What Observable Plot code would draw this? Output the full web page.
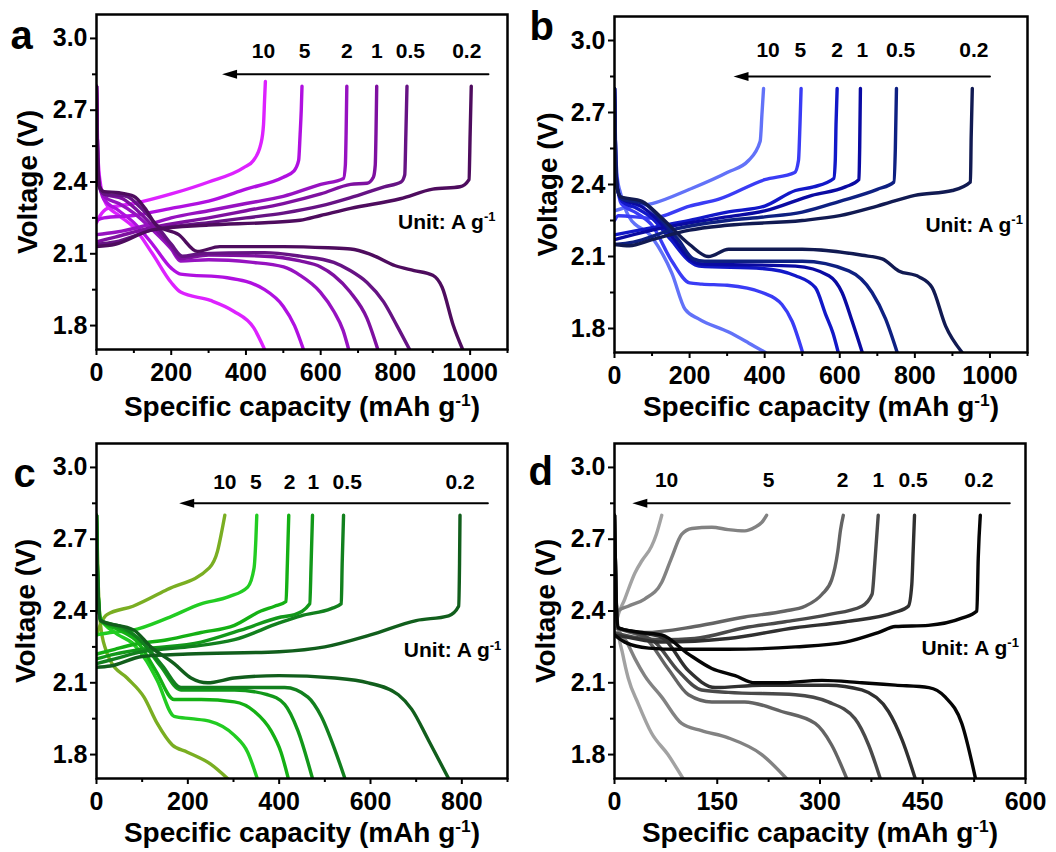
<!DOCTYPE html>
<html><head><meta charset="utf-8">
<script src="https://cdn.jsdelivr.net/npm/d3@7"></script>
<script src="https://cdn.jsdelivr.net/npm/@observablehq/plot@0.6"></script>
<style>
body{margin:0;background:#fff;}
#grid{display:grid;grid-template-columns:528px 528px;grid-template-rows:426px 426px;width:1056px;}
#grid svg{display:block;overflow:visible}
</style></head><body><div id="grid"></div>
<script>
// ---- shared categories / ticks ----
const rates = ["10","5","2","1","0.5","0.2"];
const yTicks = [1.8, 2.1, 2.4, 2.7, 3.0];
const yMinor = [1.95, 2.25, 2.55, 2.85];
const xTicksAB = [0,200,400,600,800,1000];
const xMinorAB = [100,300,500,700,900,1100];
const xTicksC = [0,200,400,600,800];
const xMinorC = [100,300,500,700,900];
const xTicksD = [0,150,300,450,600];
const xMinorD = [75,225,375,525];

// ---- colours ----
const colorsA = ["#dd22ff","#b010e0","#9612c0","#7e10a0","#661384","#4e0c5e"];
const colorsB = ["#6272f8","#3a3cf5","#1218c8","#0a0aa2","#0e2082","#111a52"];
const colorsC = ["#7aae22","#22cc22","#14b014","#12981a","#12801e","#115e1c"];
const colorsD = ["#a2a2a2","#828282","#646464","#4a4a4a","#303030","#050505"];

// ---- panel a (capacity mAh/g, voltage V), order: 10,5,2,1,0.5,0.2 ----
const aCharge = [
  [[0,2.23],[10,2.26],[30,2.29],[100,2.31],[200,2.35],[300,2.40],[394,2.46],[420,2.49],[440,2.56],[447,2.64],[450,2.75],[452,2.82]],
  [[0,2.24],[20,2.25],[100,2.26],[200,2.29],[300,2.32],[400,2.37],[500,2.42],[528,2.445],[541,2.49],[545,2.6],[548,2.7],[550,2.8]],
  [[0,2.18],[50,2.19],[135,2.22],[200,2.25],[300,2.28],[400,2.31],[500,2.34],[600,2.39],[661,2.415],[666,2.47],[668,2.6],[670,2.8]],
  [[0,2.15],[50,2.17],[150,2.21],[300,2.25],[400,2.28],[500,2.31],[600,2.35],[680,2.39],[724,2.395],[741,2.42],[746,2.47],[748,2.6],[750,2.8]],
  [[0,2.14],[50,2.15],[150,2.2],[300,2.23],[400,2.25],[500,2.27],[600,2.30],[680,2.335],[770,2.38],[815,2.40],[825,2.43],[828,2.6],[831,2.8]],
  [[0,2.13],[50,2.14],[150,2.20],[300,2.22],[450,2.23],[545,2.24],[600,2.26],[680,2.29],[813,2.33],[900,2.37],[973,2.38],[997,2.41],[1000,2.6],[1003,2.8]]
];
const aDischarge = [
  [[0,2.8],[3,2.55],[8,2.42],[25,2.31],[60,2.26],[100,2.21],[150,2.1],[200,1.98],[225,1.94],[305,1.905],[367,1.86],[421,1.79],[450,1.7]],
  [[0,2.8],[3,2.5],[8,2.4],[19,2.33],[60,2.28],[100,2.23],[150,2.14],[200,2.04],[225,2.015],[350,2.0],[450,1.95],[500,1.88],[530,1.8],[554,1.7]],
  [[0,2.8],[3,2.5],[8,2.38],[20,2.34],[60,2.31],[100,2.27],[150,2.2],[200,2.12],[225,2.07],[300,2.075],[412,2.065],[501,2.045],[545,2.01],[599,1.94],[635,1.86],[660,1.78],[675,1.7]],
  [[0,2.8],[3,2.5],[8,2.38],[20,2.35],[70,2.33],[110,2.28],[160,2.2],[200,2.13],[225,2.08],[300,2.095],[450,2.09],[545,2.07],[600,2.045],[635,2.01],[679,1.94],[724,1.83],[753,1.7]],
  [[0,2.8],[3,2.5],[8,2.38],[20,2.35],[80,2.34],[120,2.29],[160,2.22],[200,2.14],[230,2.09],[280,2.1],[450,2.105],[545,2.09],[635,2.064],[679,2.03],[724,1.98],[768,1.9],[804,1.8],[838,1.7]],
  [[0,2.8],[3,2.5],[8,2.38],[20,2.36],[60,2.355],[100,2.34],[130,2.29],[160,2.22],[220,2.18],[270,2.11],[330,2.13],[500,2.13],[620,2.125],[680,2.12],[730,2.1],[800,2.05],[850,2.03],[900,2.01],[925,1.96],[955,1.8],[980,1.7]]
];

// ---- panel b ----
const bCharge = [
  [[0,2.29],[20,2.3],[100,2.32],[200,2.38],[300,2.45],[357,2.5],[388,2.58],[393,2.7],[397,2.8]],
  [[0,2.25],[10,2.27],[100,2.26],[200,2.31],[280,2.34],[400,2.42],[480,2.45],[490,2.5],[494,2.65],[497,2.8]],
  [[0,2.19],[100,2.22],[200,2.25],[300,2.285],[400,2.31],[482,2.375],[530,2.39],[584,2.425],[588,2.5],[590,2.65],[593,2.8]],
  [[0,2.17],[100,2.21],[200,2.24],[300,2.265],[400,2.29],[526,2.355],[615,2.39],[651,2.42],[653,2.55],[655,2.8]],
  [[0,2.15],[50,2.16],[150,2.21],[300,2.25],[400,2.265],[500,2.285],[600,2.33],[700,2.38],[744,2.41],[748,2.55],[751,2.8]],
  [[0,2.15],[40,2.145],[100,2.17],[200,2.21],[300,2.23],[500,2.25],[600,2.27],[700,2.31],[800,2.355],[900,2.375],[948,2.41],[950,2.6],[953,2.8]]
];
const bDischarge = [
  [[0,2.8],[3,2.55],[8,2.42],[15,2.37],[37,2.27],[100,2.18],[153,2.03],[188,1.88],[224,1.84],[304,1.785],[357,1.74],[402,1.7]],
  [[0,2.8],[3,2.5],[8,2.4],[18,2.32],[60,2.28],[100,2.23],[153,2.08],[200,1.99],[233,1.985],[300,1.98],[393,1.95],[446,1.9],[473,1.83],[501,1.7]],
  [[0,2.8],[3,2.5],[8,2.38],[20,2.33],[60,2.3],[100,2.26],[150,2.17],[200,2.08],[225,2.06],[393,2.05],[482,2.02],[535,1.97],[562,1.86],[582,1.78],[596,1.7]],
  [[0,2.8],[3,2.5],[8,2.38],[20,2.34],[70,2.31],[110,2.26],[160,2.17],[200,2.09],[225,2.07],[482,2.06],[571,2.02],[606,1.95],[633,1.83],[660,1.7]],
  [[0,2.8],[3,2.5],[8,2.38],[20,2.34],[80,2.32],[120,2.26],[170,2.17],[210,2.09],[240,2.08],[500,2.08],[624,2.04],[686,1.95],[722,1.84],[753,1.7]],
  [[0,2.8],[3,2.5],[8,2.38],[15,2.35],[73,2.33],[126,2.26],[200,2.15],[250,2.1],[304,2.13],[500,2.13],[660,2.105],[713,2.09],[757,2.04],[811,2.015],[846,1.97],[882,1.81],[926,1.7]]
];

// ---- panel c ----
const cCharge = [
  [[0,2.3],[10,2.35],[23,2.385],[80,2.42],[155,2.49],[247,2.58],[265,2.65],[273,2.72],[281,2.8]],
  [[0,2.3],[30,2.31],[80,2.32],[155,2.37],[229,2.43],[290,2.46],[331,2.5],[345,2.58],[349,2.7],[351,2.8]],
  [[0,2.22],[40,2.24],[82,2.26],[155,2.28],[229,2.31],[302,2.34],[360,2.4],[390,2.42],[415,2.44],[418,2.6],[421,2.8]],
  [[0,2.2],[40,2.22],[100,2.24],[229,2.27],[316,2.32],[404,2.375],[434,2.385],[467,2.43],[470,2.6],[473,2.8]],
  [[0,2.18],[40,2.2],[100,2.23],[200,2.25],[302,2.28],[400,2.35],[448,2.38],[514,2.41],[536,2.43],[538,2.6],[541,2.8]],
  [[0,2.165],[30,2.17],[100,2.21],[200,2.22],[400,2.23],[500,2.25],[600,2.3],[700,2.36],[771,2.38],[793,2.42],[795,2.6],[796,2.8]]
];
const cDischarge = [
  [[0,2.8],[4,2.5],[9,2.34],[20,2.24],[31,2.19],[67,2.12],[104,2.04],[133,1.93],[166,1.84],[199,1.81],[250,1.76],[287,1.7]],
  [[0,2.8],[3,2.5],[9,2.37],[40,2.31],[82,2.26],[110,2.19],[133,2.11],[170,1.96],[207,1.95],[247,1.94],[302,1.88],[331,1.81],[352,1.7]],
  [[0,2.8],[3,2.5],[9,2.36],[50,2.32],[90,2.27],[130,2.15],[170,2.03],[229,2.03],[302,2.02],[346,1.98],[382,1.9],[404,1.81],[420,1.7]],
  [[0,2.8],[3,2.5],[9,2.36],[50,2.33],[95,2.28],[140,2.17],[185,2.07],[302,2.07],[375,2.05],[412,2.01],[441,1.9],[473,1.7]],
  [[0,2.8],[3,2.5],[9,2.36],[60,2.33],[100,2.27],[145,2.17],[185,2.08],[412,2.08],[463,2.04],[492,1.96],[522,1.82],[544,1.7]],
  [[0,2.8],[3,2.5],[9,2.36],[82,2.32],[119,2.25],[170,2.18],[207,2.12],[243,2.1],[302,2.12],[400,2.13],[522,2.12],[595,2.1],[661,2.05],[690,1.99],[727,1.86],[771,1.7]]
];

// ---- panel d ----
const dCharge = [
  [[0,2.32],[3,2.36],[15,2.45],[30,2.56],[40,2.61],[54,2.67],[61,2.72],[69,2.8]],
  [[0,2.33],[5,2.4],[20,2.42],[44,2.45],[69,2.52],[83,2.62],[98,2.72],[113,2.745],[142,2.75],[166,2.74],[190,2.735],[205,2.75],[215,2.77],[222,2.8]],
  [[0,2.33],[44,2.31],[117,2.335],[190,2.375],[249,2.4],[278,2.42],[303,2.47],[317,2.53],[326,2.65],[330,2.74],[334,2.8]],
  [[0,2.31],[30,2.29],[69,2.28],[117,2.285],[190,2.33],[249,2.355],[312,2.385],[361,2.42],[376,2.47],[380,2.6],[385,2.8]],
  [[0,2.3],[20,2.29],[69,2.27],[166,2.285],[264,2.33],[337,2.355],[410,2.395],[429,2.42],[434,2.51],[436,2.65],[438,2.8]],
  [[0,2.3],[15,2.27],[50,2.245],[93,2.24],[166,2.24],[264,2.25],[337,2.27],[385,2.31],[410,2.335],[458,2.34],[507,2.37],[529,2.4],[531,2.62],[534,2.8]]
];
const dDischarge = [
  [[0,2.8],[2,2.5],[5,2.33],[12,2.22],[20,2.12],[35,2.01],[54,1.89],[78,1.8],[100,1.7]],
  [[0,2.8],[2,2.5],[5,2.33],[18,2.27],[30,2.2],[44,2.13],[69,2.04],[98,1.93],[127,1.9],[166,1.87],[215,1.8],[251,1.7]],
  [[0,2.8],[2,2.5],[5,2.33],[25,2.31],[44,2.29],[78,2.16],[108,2.05],[142,2.02],[190,2.02],[244,1.98],[293,1.93],[317,1.84],[339,1.7]],
  [[0,2.8],[2,2.5],[5,2.33],[30,2.31],[59,2.27],[93,2.15],[127,2.07],[166,2.06],[264,2.05],[312,2.02],[351,1.95],[371,1.84],[388,1.7]],
  [[0,2.8],[2,2.5],[5,2.33],[35,2.31],[69,2.29],[108,2.15],[147,2.08],[215,2.09],[312,2.09],[361,2.07],[400,1.98],[420,1.86],[439,1.7]],
  [[0,2.8],[2,2.5],[5,2.33],[40,2.31],[69,2.3],[108,2.22],[142,2.16],[176,2.13],[205,2.1],[239,2.1],[303,2.11],[361,2.1],[410,2.09],[459,2.08],[483,2.04],[507,1.93],[527,1.7]]
];

// ---- annotation positions (data units) ----
const aLabelX = [447,557,670,750,840,991];
const bLabelX = [409,495,593,660,762,957];
const cLabelX = [281,349,423,475,549,796];
const dLabelX = [76,225,333,385,436,532];
const aArrow = {x1:1049, x2:336, y:2.85};
const bArrow = {x1:1000, x2:317, y:2.85};
const cArrow = {x1:857, x2:181, y:2.85};
const dArrow = {x1:577, x2:26, y:2.85};
const aUnit = {x:807, y:2.205};
const bUnit = {x:828, y:2.202};
const cUnit = {x:673, y:2.206};
const dUnit = {x:448, y:2.218};

const FONT = "'Liberation Sans', Arial, Helvetica, sans-serif";
const arrowHead = {
  draw(ctx) { ctx.moveTo(0,0); ctx.lineTo(15,-4.5); ctx.lineTo(15,4.5); ctx.closePath(); }
};

function panel(cfg) {
  const rows = [];
  rates.forEach((r, i) => {
    cfg.charge[i].forEach(([x, v]) => rows.push({rate: r, id: r + "c", x, v}));
    cfg.discharge[i].forEach(([x, v]) => rows.push({rate: r, id: r + "d", x, v}));
  });
  const labels = rates.map((r, i) => ({rate: r, x: cfg.labelX[i], y: cfg.labelY}));
  const p = Plot.plot({
    width: 528, height: 426,
    marginLeft: cfg.m[0], marginRight: cfg.m[1], marginTop: cfg.m[2], marginBottom: cfg.m[3],
    x: {domain: cfg.xDomain},
    y: {domain: [1.7, 3.1]},
    color: {domain: rates, range: cfg.colors},
    style: {fontFamily: FONT, fontWeight: "bold", color: "#000", background: "#fff", overflow: "visible"},
    marks: [
      Plot.line(rows, {x: "x", y: "v", z: "id", stroke: "rate", curve: "monotone-x", strokeWidth: 3.4, strokeLinejoin: "round", strokeLinecap: "round", clip: true}),
      Plot.frame({stroke: "#000", strokeWidth: 2.5}),
      Plot.axisX({ticks: cfg.xTicks, tickSize: 6, tickPadding: 8, strokeWidth: 2, fontSize: 25, fontWeight: "bold", label: null, tickFormat: d => String(d)}),
      Plot.axisX({ticks: cfg.xMinor, tickSize: 4, strokeWidth: 2, text: null, label: null}),
      Plot.axisY({ticks: yTicks, tickSize: 6, tickPadding: 3, strokeWidth: 2, fontSize: 25, fontWeight: "bold", label: null, tickFormat: d3.format(".1f")}),
      Plot.axisY({ticks: yMinor, tickSize: 4, strokeWidth: 2, text: null, label: null}),
      Plot.arrow([cfg.arrow], {x1: "x1", x2: "x2", y1: "y", y2: "y", headLength: 0, insetEnd: 8, strokeWidth: 2, stroke: "#000"}),
      Plot.dot([cfg.arrow], {x: "x2", y: "y", symbol: arrowHead, fill: "#000", stroke: "none"}),
      Plot.text(labels, {x: "x", y: "y", text: "rate", fontSize: 21, fontWeight: "bold", lineAnchor: "bottom", fill: "#000"}),
      Plot.text([cfg.unit], {x: "x", y: "y", text: () => "Unit: A g⁻¹", fontSize: 21, fontWeight: "bold", textAnchor: "start", lineAnchor: "bottom", fill: "#000"}),
      Plot.text([0], {frameAnchor: "bottom", text: () => "Specific capacity (mAh g⁻¹)", fontSize: 28, fontWeight: "bold", textAnchor: "middle", lineAnchor: "top", dy: cfg.xTitleDy, fill: "#000"}),
      Plot.text([0], {frameAnchor: "left", text: () => "Voltage (V)", fontSize: 28, fontWeight: "bold", textAnchor: "middle", lineAnchor: "middle", rotate: -90, dx: cfg.yTitleDx, fill: "#000"}),
      Plot.text([0], {frameAnchor: "top-left", text: () => cfg.letter, fontSize: 40, fontWeight: "bold", textAnchor: "start", lineAnchor: "bottom", dx: cfg.letterDx, dy: cfg.letterDy, fill: "#000"})
    ]
  });
  // superscripts
  p.querySelectorAll("text").forEach(t => {
    if (t.children.length === 0 && t.textContent.includes("⁻¹")) {
      const [pre, post] = t.textContent.split("⁻¹");
      t.textContent = pre;
      const s = document.createElementNS("http://www.w3.org/2000/svg", "tspan");
      s.setAttribute("font-size", "0.62em");
      s.setAttribute("dy", "-0.6em");
      s.textContent = "-1";
      t.appendChild(s);
      if (post) {
        const q = document.createElementNS("http://www.w3.org/2000/svg", "tspan");
        q.setAttribute("dy", "0.37em");
        q.textContent = post;
        t.appendChild(q);
      }
    }
  });
  return p;
}

const grid = document.getElementById("grid");
grid.appendChild(panel({letter: "a", charge: aCharge, discharge: aDischarge, colors: colorsA,
  xDomain: [0, 1100], xTicks: xTicksAB, xMinor: xMinorAB, m: [96, 21, 14, 77],
  labelX: aLabelX, labelY: 2.92, arrow: aArrow, unit: aUnit, xTitleDy: 47, yTitleDx: -68, letterDx: -86, letterDy: 34}));
grid.appendChild(panel({letter: "b", charge: bCharge, discharge: bDischarge, colors: colorsB,
  xDomain: [0, 1100], xTicks: xTicksAB, xMinor: xMinorAB, m: [86, 29, 16, 74],
  labelX: bLabelX, labelY: 2.93, arrow: bArrow, unit: bUnit, xTitleDy: 44, yTitleDx: -66, letterDx: -85, letterDy: 23}));
grid.appendChild(panel({letter: "c", charge: cCharge, discharge: cDischarge, colors: colorsC,
  xDomain: [0, 900], xTicks: xTicksC, xMinor: xMinorC, m: [96, 21, 17, 74],
  labelX: cLabelX, labelY: 2.91, arrow: cArrow, unit: cUnit, xTitleDy: 44, yTitleDx: -70, letterDx: -83, letterDy: 43}));
grid.appendChild(panel({letter: "d", charge: dCharge, discharge: dDischarge, colors: colorsD,
  xDomain: [0, 600], xTicks: xTicksD, xMinor: xMinorD, m: [86, 31, 17, 74],
  labelX: dLabelX, labelY: 2.92, arrow: dArrow, unit: dUnit, xTitleDy: 44, yTitleDx: -68, letterDx: -86, letterDy: 41}));
</script></body></html>
